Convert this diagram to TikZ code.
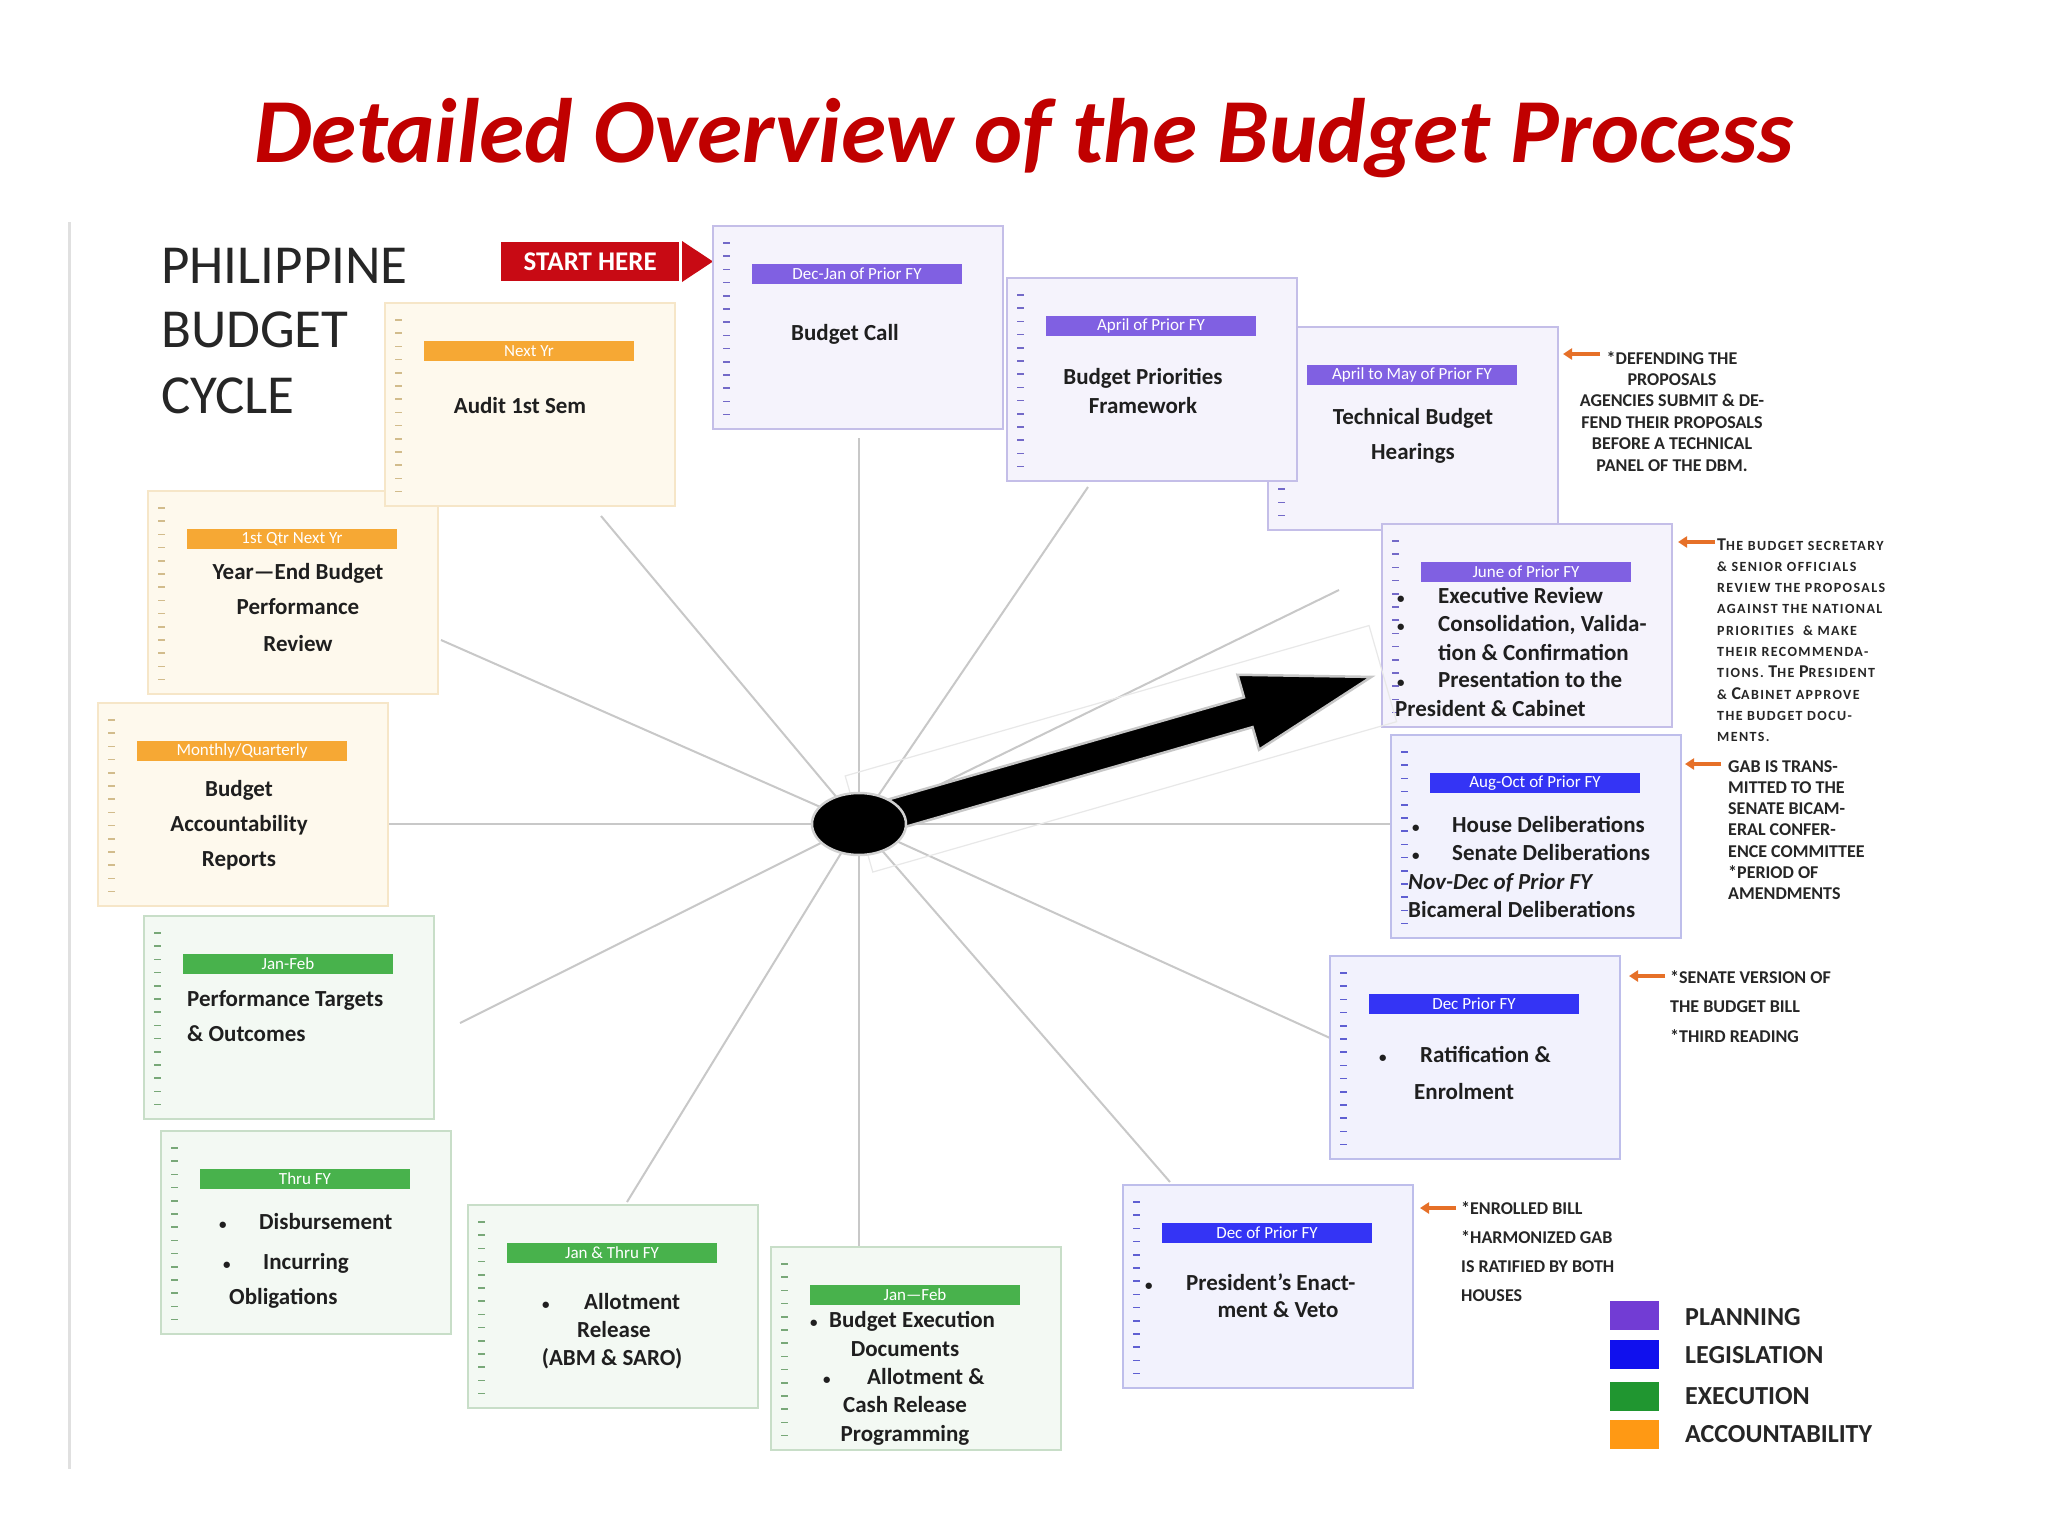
\documentclass[tikz,border=0pt]{standalone}
\usepackage{fontspec}
\setmainfont{Carlito}
\newfontfamily\scfont[LetterSpace=10]{Carlito}
\usetikzlibrary{calc,shapes.geometric,arrows.meta}
\definecolor{titlered}{RGB}{192,0,0}
\definecolor{startred}{RGB}{200,10,20}
\definecolor{planfill}{RGB}{245,243,252}
\definecolor{planline}{RGB}{196,190,232}
\definecolor{plantick}{RGB}{115,105,200}
\definecolor{planhdr}{RGB}{128,96,226}
\definecolor{legfill}{RGB}{242,242,253}
\definecolor{legline}{RGB}{190,190,235}
\definecolor{legtick}{RGB}{95,95,210}
\definecolor{leghdr}{RGB}{52,52,245}
\definecolor{exefill}{RGB}{243,249,243}
\definecolor{exeline}{RGB}{200,222,200}
\definecolor{exetick}{RGB}{120,168,120}
\definecolor{exehdr}{RGB}{72,178,76}
\definecolor{accfill}{RGB}{254,249,237}
\definecolor{accline}{RGB}{246,230,200}
\definecolor{acctick}{RGB}{210,188,140}
\definecolor{acchdr}{RGB}{246,168,52}
\definecolor{spokegray}{RGB}{200,200,200}
\definecolor{noteorange}{RGB}{230,112,40}
\definecolor{lgplan}{RGB}{114,60,212}
\definecolor{lgleg}{RGB}{16,16,238}
\definecolor{lgexe}{RGB}{32,150,48}
\definecolor{lgacc}{RGB}{255,153,20}
\newcommand\bul[1]{\makebox[#1pt][l]{\fontsize{15}{15}\selectfont\textbullet}}
\newcommand\BC[1]{{\fontsize{18}{18}\selectfont #1}}
\newcommand\bbox[5]{%
  \node[box=#4, anchor=north west] (#1) at (#2,#3) {};
  \foreach \k in {0,...,13}{\draw[tickmark=#4] ($(#1.north west)+(10,17+13.2*\k)$) -- ++(7,0);}
  \node[hdr=#4, anchor=north west] (#1h) at ($(#1.north west)+(39,38)$) {#5};
}
\begin{document}
\begin{tikzpicture}[x=1pt,y=-1pt,
  box/.style={draw=#1line, fill=#1fill, line width=1.8, minimum width=290, minimum height=203, inner sep=0, outer sep=0},
  hdr/.style={fill=#1hdr, minimum width=210, minimum height=20, inner sep=0, outer sep=0, text=white, font=\fontsize{17}{17}\selectfont},
  tickmark/.style={draw=#1tick, line width=1.6},
  txt/.style={inner sep=0, font=\bfseries\fontsize{23}{23}\selectfont, text=black!88},
  note/.style={inner sep=0, font=\bfseries\fontsize{18}{18}\selectfont, text=black!85},
  notesc/.style={inner sep=0, font=\scfont\bfseries\fontsize{14}{14}\selectfont, text=black!85},
  notearrow/.style={draw=noteorange, line width=4, -{Triangle[length=9pt,width=11pt]}},
  spokeline/.style={draw=spokegray, line width=2},
  legbox/.style={minimum width=49, minimum height=29, inner sep=0, anchor=north west},
  legtxt/.style={inner sep=0, anchor=west, font=\bfseries\fontsize{26}{26}\selectfont, text=black!85},
]
\useasboundingbox (0,0) rectangle (2048,1536);
\fill[white] (0,0) rectangle (2048,1536);

% title
\node[inner sep=0, anchor=base, text=titlered, font=\bfseries\itshape\fontsize{91.5}{91.5}\selectfont] (title) at (1024,162) {Detailed Overview of the Budget Process};

% left rule
\draw[draw=black!12, line width=3] (69,222) -- (69,1469);

% cycle title
\node[inner sep=0, anchor=base west, font=\fontsize{55}{55}\selectfont, text=black!85] (cy1) at (161,283) {PHILIPPINE};
\node[inner sep=0, anchor=base west, font=\fontsize{55}{55}\selectfont, text=black!85] (cy2) at (161,347) {BUDGET};
\node[inner sep=0, anchor=base west, font=\fontsize{55}{55}\selectfont, text=black!85] (cy3) at (161,413) {CYCLE};

% start here
\node[fill=startred, text=white, font=\bfseries\fontsize{27}{27}\selectfont, minimum width=178, minimum height=39, inner sep=0, anchor=north west] (start) at (501,242) {START HERE};
\fill[startred] (682,241) -- (713,261.5) -- (682,282) -- cycle;

% hub and spoke ends
\coordinate (hc) at (859,824);
\coordinate (sUp) at (859,438);
\coordinate (sPri) at (1088,487);
\coordinate (sExe) at (1339,590);
\coordinate (sRt) at (1391,824);
\coordinate (sRat) at (1330,1038);
\coordinate (sPre) at (1170,1182);
\coordinate (sDn) at (859,1247);
\coordinate (sAll) at (627,1202);
\coordinate (sPer) at (460,1023);
\coordinate (sLf) at (385,824);
\coordinate (sYE) at (441,640);
\coordinate (sAud) at (601,516);
\foreach \e in {sUp,sPri,sExe,sRt,sRat,sPre,sDn,sAll,sPer,sLf,sYE,sAud}{\draw[spokeline] (hc) -- (\e);}

% boxes
\bbox{b1}{713}{226}{plan}{Dec-Jan of Prior FY}
\bbox{b3}{1268}{327}{plan}{April to May of Prior FY}
\bbox{b2}{1007}{278}{plan}{April of Prior FY}
\bbox{b4}{1382}{524}{plan}{June of Prior FY}
\bbox{b5}{1391}{735}{leg}{Aug-Oct of Prior FY}
\bbox{b6}{1330}{956}{leg}{Dec Prior FY}
\bbox{b7}{1123}{1185}{leg}{Dec of Prior FY}
\bbox{b8}{771}{1247}{exe}{Jan—Feb}
\bbox{b9}{468}{1205}{exe}{Jan \& Thru FY}
\bbox{b10}{161}{1131}{exe}{Thru FY}
\bbox{b11}{144}{916}{exe}{Jan-Feb}
\bbox{b12}{98}{703}{acc}{Monthly/Quarterly}
\bbox{b13}{148}{491}{acc}{1st Qtr Next Yr}
\bbox{b14}{385}{303}{acc}{Next Yr}

% box texts
\node[txt, anchor=base] (t1) at (845,340) {Budget Call};
\node[txt, anchor=base] (t2a) at (1143,384) {Budget Priorities};
\node[txt, anchor=base] (t2b) at (1143,413) {Framework};
\node[txt, anchor=base] (t3a) at (1413,424) {Technical Budget};
\node[txt, anchor=base] (t3b) at (1413,459) {Hearings};
\node[txt, anchor=base west] (t4a) at (1397,603) {\bul{41}Executive Review};
\node[txt, anchor=base west] (t4b) at (1397,631) {\bul{41}Consolidation, Valida-};
\node[txt, anchor=base west] (t4c) at (1438,660) {tion \& Confirmation};
\node[txt, anchor=base west] (t4d) at (1397,687) {\bul{41}Presentation to the};
\node[txt, anchor=base west] (t4e) at (1395,716) {President \& Cabinet};
\node[txt, anchor=base west] (t5a) at (1412,832) {\bul{40}House Deliberations};
\node[txt, anchor=base west] (t5b) at (1412,860) {\bul{40}Senate Deliberations};
\node[txt, anchor=base west] (t5c) at (1408,889) {\itshape Nov-Dec of Prior FY};
\node[txt, anchor=base west] (t5d) at (1408,917) {Bicameral Deliberations};
\node[txt, anchor=base west] (t6a) at (1379,1062) {\bul{41}Ratification \&};
\node[txt, anchor=base west] (t6b) at (1414,1099) {Enrolment};
\node[txt, anchor=base west] (t7a) at (1145,1290) {\bul{41}President’s Enact-};
\node[txt, anchor=base] (t7b) at (1278,1317) {ment \& Veto};
\node[txt, anchor=base west] (t8a) at (810,1327) {\bul{19}Budget Execution};
\node[txt, anchor=base] (t8b) at (905,1356) {Documents};
\node[txt, anchor=base west] (t8c) at (823,1384) {\bul{44}Allotment \&};
\node[txt, anchor=base] (t8d) at (905,1412) {Cash Release};
\node[txt, anchor=base] (t8e) at (905,1441) {Programming};
\node[txt, anchor=base west] (t9a) at (542,1309) {\bul{42}Allotment};
\node[txt, anchor=base] (t9b) at (614,1337) {Release};
\node[txt, anchor=base] (t9c) at (612,1365) {(ABM \& SARO)};
\node[txt, anchor=base west] (t10a) at (219,1229) {\bul{40}Disbursement};
\node[txt, anchor=base west] (t10b) at (223,1269) {\bul{40}Incurring};
\node[txt, anchor=base west] (t10c) at (229,1304) {Obligations};
\node[txt, anchor=base west] (t11a) at (187,1006) {Performance Targets};
\node[txt, anchor=base west] (t11b) at (187,1041) {\& Outcomes};
\node[txt, anchor=base] (t12a) at (239,796) {Budget};
\node[txt, anchor=base] (t12b) at (239,831) {Accountability};
\node[txt, anchor=base] (t12c) at (239,866) {Reports};
\node[txt, anchor=base] (t13a) at (298,579) {Year—End Budget};
\node[txt, anchor=base] (t13b) at (298,614) {Performance};
\node[txt, anchor=base] (t13c) at (298,651) {Review};
\node[txt, anchor=base] (t14) at (520,413) {Audit 1st Sem};

% big arrow
\begin{scope}[shift={(hc)}, rotate=16.02]
  \draw[draw=black!9, line width=1.2] (0,-50) rectangle (545,50);
  \filldraw[fill=black, draw=black!22, line width=2.5] (20,-15.5) -- (405,-15.5) -- (405,-39) -- (533,0) -- (405,39) -- (405,15.5) -- (20,15.5) -- cycle;
\end{scope}
\node[ellipse, fill=black, draw=black!18, line width=2.5, minimum width=94, minimum height=62, inner sep=0] (hub) at (hc) {};

% notes
\coordinate (n1s) at (1600,354); \coordinate (n1e) at (1563,354);
\coordinate (n2s) at (1715,542); \coordinate (n2e) at (1678,542);
\coordinate (n3s) at (1721,764); \coordinate (n3e) at (1685,764);
\coordinate (n4s) at (1665,976); \coordinate (n4e) at (1629,976);
\coordinate (n5s) at (1456,1208); \coordinate (n5e) at (1420,1208);
\foreach \i in {1,...,5}{\draw[notearrow] (n\i s) -- (n\i e);}

\foreach \t [count=\i] in {{*DEFENDING THE},{PROPOSALS},{AGENCIES SUBMIT \& DE-},{FEND THEIR PROPOSALS},{BEFORE A TECHNICAL},{PANEL OF THE DBM.}}
  {\node[note, anchor=base] (na\i) at (1672,{364+21.4*(\i-1)}) {\t};}
\foreach \t [count=\i] in {{\BC{T}HE BUDGET SECRETARY},{\& SENIOR OFFICIALS},{REVIEW THE PROPOSALS},{AGAINST THE NATIONAL},{PRIORITIES\ \ \& MAKE},{THEIR RECOMMENDA-},{TIONS. \BC{T}HE \BC{P}RESIDENT},{\& \BC{C}ABINET APPROVE},{THE BUDGET DOCU-},{MENTS.}}
  {\node[notesc, anchor=base west] (nb\i) at (1717,{550+21.3*(\i-1)}) {\t};}
\foreach \t [count=\i] in {{GAB IS TRANS-},{MITTED TO THE},{SENATE BICAM-},{ERAL CONFER-},{ENCE COMMITTEE},{*PERIOD OF},{AMENDMENTS}}
  {\node[note, anchor=base west] (nc\i) at (1728,{772+21.3*(\i-1)}) {\t};}
\foreach \t [count=\i] in {{*SENATE VERSION OF},{THE BUDGET BILL},{*THIRD READING}}
  {\node[note, anchor=base west] (nd\i) at (1670,{983+29.5*(\i-1)}) {\t};}
\foreach \t [count=\i] in {{*ENROLLED BILL},{*HARMONIZED GAB},{IS RATIFIED BY BOTH},{HOUSES}}
  {\node[note, anchor=base west] (ne\i) at (1461,{1214+29*(\i-1)}) {\t};}

% legend
\node[legbox, fill=lgplan] (lg1) at (1610,1301) {};
\node[legbox, fill=lgleg] (lg2) at (1610,1340) {};
\node[legbox, fill=lgexe] (lg3) at (1610,1382) {};
\node[legbox, fill=lgacc] (lg4) at (1610,1420) {};
\node[legtxt] (lt1) at (1685,1317) {PLANNING};
\node[legtxt] (lt2) at (1685,1355) {LEGISLATION};
\node[legtxt] (lt3) at (1685,1396) {EXECUTION};
\node[legtxt] (lt4) at (1685,1434) {ACCOUNTABILITY};
\end{tikzpicture}
\end{document}
